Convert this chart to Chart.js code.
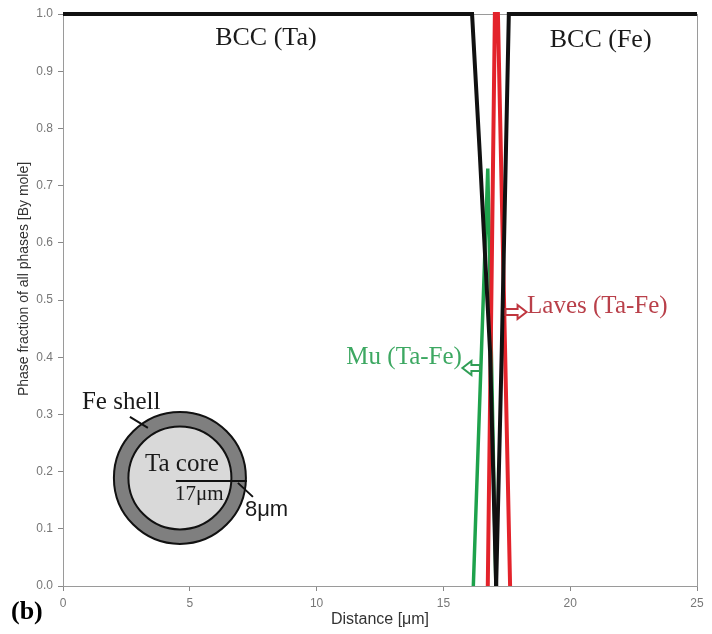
<!DOCTYPE html>
<html>
<head>
<meta charset="utf-8">
<script src="https://cdn.jsdelivr.net/npm/chart.js@4.4.0/dist/chart.umd.min.js"></script>
<style>
  html, body { margin: 0; padding: 0; background: #fff; }
  #wrap { width: 712px; height: 634px; }
</style>
</head>
<body>
<div id="wrap"><canvas id="chart" width="712" height="634"></canvas></div>
<script>
// Phase fraction vs distance across the Ta/Fe interface
const bccTaDist  = [0, 16.13, 16.43, 16.84, 17.08];
const bccTaFrac  = [1.0, 1.0, 0.76, 0.41, 0.0];
const bccFeDist  = [17.08, 17.30, 17.58, 25];
const bccFeFrac  = [0.0, 0.41, 1.0, 1.0];
const lavesDist  = [16.75, 17.03, 17.15, 17.63];
const lavesFrac  = [0.0, 1.0, 1.0, 0.0];
const muDist     = [16.18, 16.75, 17.07];
const muFrac     = [0.0, 0.73, 0.0];

const xTicks = [0, 5, 10, 15, 20, 25];

const toPts = (xs, ys) => xs.map((x, i) => ({ x, y: ys[i] }));

const SERIF = '"Liberation Serif", "DejaVu Serif", serif';
const SANS  = '"Liberation Sans", Arial, sans-serif';

function hollowArrow(ctx, xTail, xHead, y, color) {
  const dir = xHead > xTail ? 1 : -1;
  const headLen = 9, shaft = 3, head = 7;
  const xBase = xHead - dir * headLen;
  ctx.save();
  ctx.beginPath();
  ctx.moveTo(xTail, y - shaft);
  ctx.lineTo(xBase, y - shaft);
  ctx.lineTo(xBase, y - head);
  ctx.lineTo(xHead, y);
  ctx.lineTo(xBase, y + head);
  ctx.lineTo(xBase, y + shaft);
  ctx.lineTo(xTail, y + shaft);
  ctx.closePath();
  ctx.fillStyle = '#fff';
  ctx.fill();
  ctx.lineWidth = 2;
  ctx.strokeStyle = color;
  ctx.stroke();
  ctx.restore();
}

const framePlugin = {
  id: 'frame',
  beforeDatasetsDraw(chart) {
    const { ctx, chartArea: a } = chart;
    ctx.save();
    ctx.strokeStyle = '#9a9a9a';
    ctx.lineWidth = 1;
    ctx.strokeRect(a.left + 0.5, a.top + 0.5, a.right - a.left, a.bottom - a.top);
    ctx.restore();
  }
};

const notesPlugin = {
  id: 'notes',
  afterDraw(chart) {
    const { ctx, scales: { x, y } } = chart;
    ctx.save();
    ctx.textBaseline = 'middle';

    // phase labels
    ctx.font = '26px ' + SERIF;
    ctx.fillStyle = '#1a1a1a';
    ctx.textAlign = 'center';
    ctx.fillText('BCC (Ta)', x.getPixelForValue(8.0), y.getPixelForValue(0.958));
    ctx.fillText('BCC (Fe)', x.getPixelForValue(21.2), y.getPixelForValue(0.955));

    ctx.font = '25px ' + SERIF;
    ctx.textAlign = 'left';
    ctx.fillStyle = '#b9404a';
    ctx.fillText('Laves (Ta-Fe)', x.getPixelForValue(18.3), y.getPixelForValue(0.488));
    hollowArrow(ctx, x.getPixelForValue(17.45), x.getPixelForValue(18.28), y.getPixelForValue(0.479), '#c0363f');

    ctx.textAlign = 'right';
    ctx.fillStyle = '#3da862';
    ctx.fillText('Mu (Ta-Fe)', x.getPixelForValue(15.73), y.getPixelForValue(0.399));
    hollowArrow(ctx, x.getPixelForValue(16.44), x.getPixelForValue(15.75), y.getPixelForValue(0.381), '#2f9e55');

    // inset: core/shell sketch
    const cx = x.getPixelForValue(4.61), cy = y.getPixelForValue(0.189);
    ctx.lineWidth = 2;
    ctx.strokeStyle = '#111';
    ctx.beginPath(); ctx.arc(cx, cy, 66, 0, Math.PI * 2);
    ctx.fillStyle = '#7f7f7f'; ctx.fill(); ctx.stroke();
    ctx.beginPath(); ctx.arc(cx, cy, 51.5, 0, Math.PI * 2);
    ctx.fillStyle = '#d9d9d9'; ctx.fill(); ctx.stroke();

    ctx.beginPath();
    ctx.moveTo(cx - 4, cy + 3); ctx.lineTo(cx + 67, cy + 3);
    ctx.moveTo(cx + 58, cy + 5); ctx.lineTo(cx + 73, cy + 19);
    ctx.moveTo(cx - 50, cy - 61); ctx.lineTo(cx - 32, cy - 50);
    ctx.stroke();

    ctx.fillStyle = '#1a1a1a';
    ctx.textAlign = 'left';
    ctx.font = '25px ' + SERIF;
    ctx.fillText('Fe shell', cx - 98, cy - 75);
    ctx.fillText('Ta core', cx - 35, cy - 13);
    ctx.font = '21px ' + SERIF;
    ctx.fillText('17μm', cx - 5, cy + 17);
    ctx.font = '22px ' + SANS;
    ctx.fillText('8μm', cx + 65, cy + 32);

    // axis titles
    ctx.fillStyle = '#333';
    ctx.font = '16px ' + SANS;
    ctx.textAlign = 'center';
    ctx.fillText('Distance [μm]', (chart.chartArea.left + chart.chartArea.right) / 2, 620);
    ctx.save();
    ctx.translate(24, 279);
    ctx.rotate(-Math.PI / 2);
    ctx.font = '14px ' + SANS;
    ctx.fillText('Phase fraction of all phases [By mole]', 0, 0);
    ctx.restore();

    // panel tag
    ctx.fillStyle = '#000';
    ctx.font = 'bold 26px ' + SERIF;
    ctx.textAlign = 'left';
    ctx.fillText('(b)', 11, 612);
    ctx.restore();
  }
};

const line = (data, color, width) => ({
  data, borderColor: color, borderWidth: width, showLine: true,
  pointRadius: 0, fill: false, tension: 0, clip: false
});

new Chart(document.getElementById('chart'), {
  type: 'scatter',
  data: {
    datasets: [
      line(toPts(bccTaDist, bccTaFrac), '#111111', 4),
      line(toPts(bccFeDist, bccFeFrac), '#111111', 4),
      line(toPts(lavesDist, lavesFrac), '#e3232b', 4),
      line(toPts(muDist, muFrac), '#1ea24c', 3.5)
    ]
  },
  options: {
    responsive: false,
    animation: false,
    layout: { padding: { top: 14, right: 15, left: 0, bottom: 0 } },
    plugins: { legend: { display: false }, tooltip: { enabled: false } },
    scales: {
      x: {
        type: 'linear', min: 0, max: 25,
        afterFit(axis) { axis.height = 48; },
        afterBuildTicks(axis) { axis.ticks = xTicks.map(v => ({ value: v })); },
        grid: { display: true, drawOnChartArea: false, drawTicks: true, tickLength: 5, color: '#888' },
        border: { color: '#888' },
        ticks: { color: '#777', font: { family: SANS, size: 12 }, padding: 5, maxRotation: 0 }
      },
      y: {
        type: 'linear', min: 0, max: 1,
        afterFit(axis) { axis.width = 63; },
        grid: { display: true, drawOnChartArea: false, drawTicks: true, tickLength: 5, color: '#888' },
        border: { color: '#888' },
        ticks: { stepSize: 0.1, color: '#777', font: { family: SANS, size: 12 }, padding: 5,
                 callback: v => v.toFixed(1) }
      }
    }
  },
  plugins: [framePlugin, notesPlugin]
});
</script>
</body>
</html>
